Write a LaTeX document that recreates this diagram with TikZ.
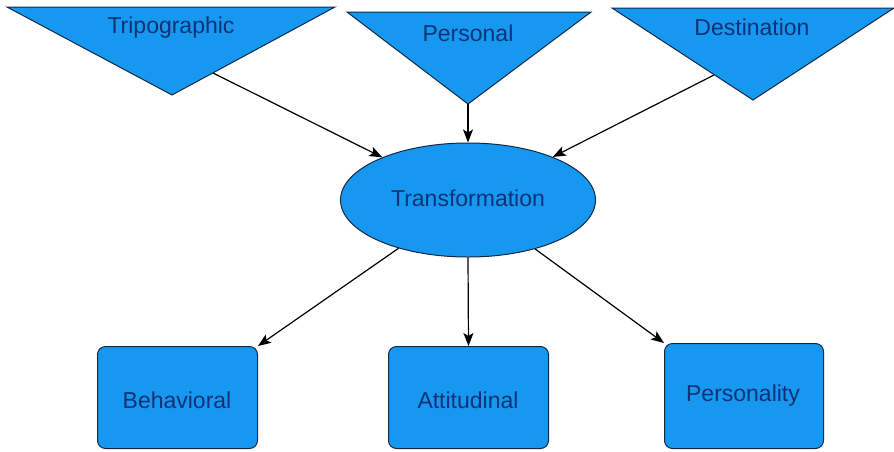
\documentclass[tikz,border=0pt]{standalone}
\usepackage{fontspec}
\setmainfont{Liberation Sans}
\usetikzlibrary{arrows.meta,shapes.geometric}
\definecolor{shapefill}{RGB}{22,152,240}
\definecolor{shapeline}{RGB}{20,40,70}
\definecolor{labelcol}{RGB}{16,50,118}
\begin{document}
\begin{tikzpicture}[x=1pt,y=-1pt,
  shapestyle/.style={fill=shapefill,draw=shapeline,line width=1pt},
  lbl/.style={text=labelcol,font=\fontsize{23}{27}\selectfont,inner sep=0pt},
  boxnode/.style={shapestyle,rounded corners=8pt,minimum width=160pt,minimum height=102pt,anchor=north west,inner sep=0pt},
  conn/.style={draw=black,line width=1.2pt,-{Stealth[length=13pt,width=10pt,inset=3pt]}}
]
\useasboundingbox (0,0) rectangle (894,451);

% connector end points on the triangle edges
\coordinate (tripout) at (213,73);
\coordinate (persout) at (468,104);
\coordinate (destout) at (714,75);

% ellipse
\node[shapestyle,ellipse,minimum width=255pt,minimum height=114pt,inner sep=0pt] (trans) at (468,200) {};
\node[lbl] (translbl) at (468,198) {Transformation};

% outcome boxes
\node[boxnode] (beh) at (97,346) {};
\node[boxnode] (att) at (388,346) {};
\node[boxnode,minimum height=105pt,minimum width=159pt] (pers) at (664,343) {};
\node[lbl] at (177,400) {Behavioral};
\node[lbl] at (468,400) {Attitudinal};
\node[lbl] at (743,396) {Personality};

% connectors
\draw[conn] (tripout) -- (trans);
\draw[conn] (persout) -- (trans.north);
\draw[conn] (destout) -- (trans);
\draw[conn] (trans) -- (beh.north east);
\draw[conn] (trans.south) -- (att.north);
\draw[conn] (trans) -- (pers.north west);

% source triangles
\filldraw[shapestyle] (7,7) -- (335,7) -- (172,95) -- cycle;
\filldraw[shapestyle] (347,12) -- (591,12) -- (468,104) -- cycle;
\filldraw[shapestyle] (612,8) -- (894,8) -- (753,100) -- cycle;
\node[lbl] (trip) at (171,28) {Tripographic};
\node[lbl] (pers0) at (468,33) {Personal};
\node[lbl] (dest) at (752,27) {Destination};
\end{tikzpicture}
\end{document}
